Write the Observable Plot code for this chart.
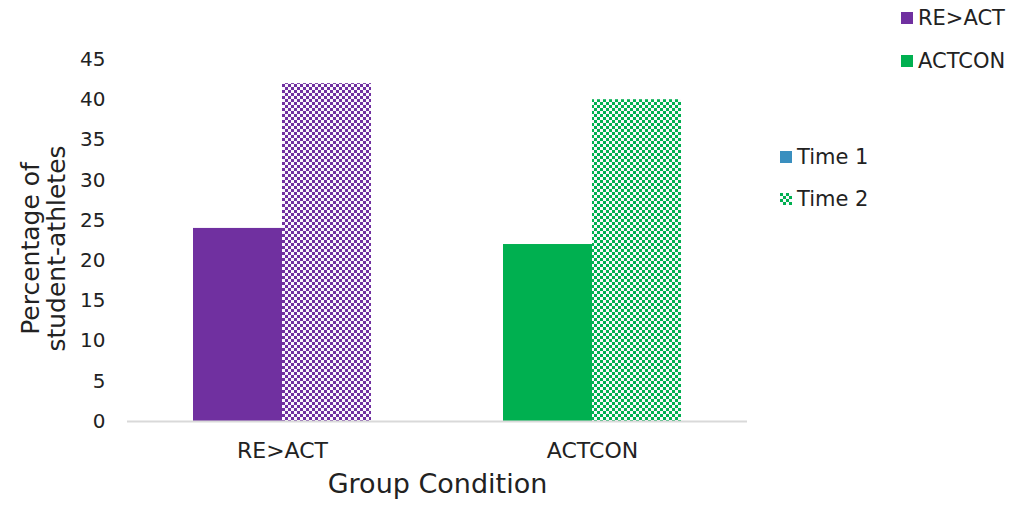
<!DOCTYPE html>
<html>
<head>
<meta charset="utf-8">
<script src="https://cdn.jsdelivr.net/npm/d3@7"></script>
<script src="https://cdn.jsdelivr.net/npm/@observablehq/plot@0.6"></script>
<style>
  body { margin: 0; background: #fff; }
  #wrap { position: relative; width: 1033px; height: 508px; font-family: "DejaVu Sans", sans-serif; color: #222; }
  .legend { position: absolute; font-size: 21px; line-height: 1; }
  .legend .item { display: flex; align-items: center; height: 20px; }
  .legend svg { margin-right: 5px; }
</style>
</head>
<body>
<div id="wrap"></div>
<script>
// Share of student-athletes per group condition, at two measurement times
const groups = ["RE>ACT", "ACTCON"];
const times = ["Time 1", "Time 2"];
const time1Values = [24, 22];
const time2Values = [42, 40];
const groupColors = ["#7030A0", "#00B050"];
const time1Color = "#3A8FBF";
const yTicks = [0, 5, 10, 15, 20, 25, 30, 35, 40, 45];

const time1Rows = groups.map((g, i) => ({group: g, value: time1Values[i]}));
const time2Rows = groups.map((g, i) => ({group: g, value: time2Values[i]}));

// Each group band holds two bars side by side: Time 1 on the left half, Time 2 on the right
const bandWidth = 178;
const half = bandWidth / 2;
const font = "DejaVu Sans, sans-serif";

const chart = Plot.plot({
  width: 1033,
  height: 508,
  marginLeft: 127,
  marginRight: 286,
  marginTop: 59,
  marginBottom: 87,
  style: {fontFamily: font, color: "#222", background: "#fff"},
  x: {domain: groups, paddingInner: 0.426, paddingOuter: 0.213, axis: null},
  y: {domain: [0, 45], axis: null},
  marks: [
    Plot.barY(time1Rows, {
      x: "group", y: "value", insetRight: half,
      fill: d => groupColors[groups.indexOf(d.group)]
    }),
    Plot.barY(time2Rows, {
      x: "group", y: "value", insetLeft: half,
      fill: d => `url(#checker-${groups.indexOf(d.group)})`
    }),
    Plot.ruleY([0], {stroke: "#d9d9d9", strokeWidth: 2}),
    Plot.axisY({ticks: yTicks, tickSize: 0, tickPadding: 22, fontSize: 20, label: null}),
    Plot.axisX({anchor: "bottom", tickSize: 0, tickPadding: 21, fontSize: 22, label: null}),
    Plot.text(["Group Condition"], {
      frameAnchor: "bottom", dy: 71, fontSize: 27, fill: "#222"
    }),
    Plot.text(["Percentage of\nstudent-athletes"], {
      frameAnchor: "left", textAnchor: "middle", rotate: -90, dx: -84, dy: 8,
      fontSize: 25, lineHeight: 1.05, fill: "#222"
    })
  ]
});

// Checkerboard patterns for the Time 2 bars
const defs = d3.select(chart).insert("defs", ":first-child");
groupColors.forEach((c, i) => {
  const p = defs.append("pattern")
    .attr("id", `checker-${i}`)
    .attr("patternUnits", "userSpaceOnUse")
    .attr("width", 6).attr("height", 6);
  p.append("rect").attr("width", 6).attr("height", 6).attr("fill", "#fbf8fd");
  p.append("rect").attr("width", 3).attr("height", 3).attr("fill", c);
  p.append("rect").attr("x", 3).attr("y", 3).attr("width", 3).attr("height", 3).attr("fill", c);
});

const wrap = document.getElementById("wrap");
wrap.appendChild(chart);

function swatch(fill) {
  return `<svg width="12" height="12"><rect width="12" height="12" fill="${fill}"/></svg>`;
}
function legend(items, left, top, gap) {
  const div = document.createElement("div");
  div.className = "legend";
  div.style.left = left + "px";
  div.style.top = top + "px";
  div.innerHTML = items.map(([label, fill], k) =>
    `<div class="item" style="margin-top:${k ? gap : 0}px">${swatch(fill)}<span>${label}</span></div>`
  ).join("");
  wrap.appendChild(div);
}
legend(groups.map((g, i) => [g, groupColors[i]]), 901, 8, 23);
legend([[times[0], time1Color], [times[1], "url(#checker-1)"]], 780, 147, 22);
</script>
</body>
</html>
